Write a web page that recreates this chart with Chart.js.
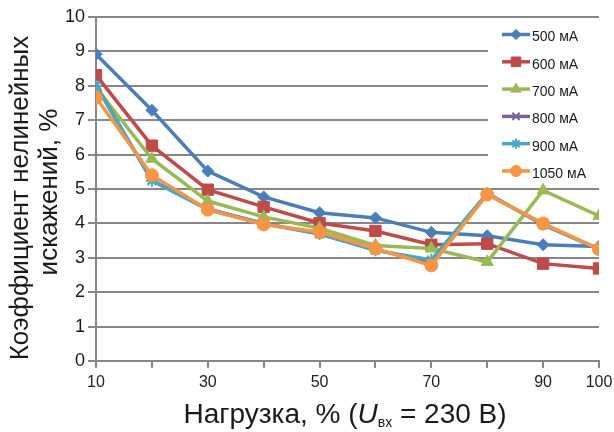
<!DOCTYPE html>
<html>
<head>
<meta charset="utf-8">
<script src="https://cdn.jsdelivr.net/npm/chart.js@4/dist/chart.umd.min.js"></script>
<style>
  html, body { margin: 0; padding: 0; background: #fff; }
  #wrap { width: 614px; height: 432px; }
</style>
</head>
<body>
<div id="wrap"><canvas id="chart-thd" width="614" height="432"></canvas></div>
<script>
// Нагрузка, %
const loads = [10, 20, 30, 40, 50, 60, 70, 80, 90, 100];
const xTickLabels = [10, 30, 50, 70, 90, 100];
const yTicks = [0, 1, 2, 3, 4, 5, 6, 7, 8, 9, 10];

const seriesNames = ['500 мА', '600 мА', '700 мА', '800 мА', '900 мА', '1050 мА'];
const s500  = [8.92, 7.29, 5.52, 4.77, 4.31, 4.16, 3.74, 3.64, 3.38, 3.33];
const s600  = [8.31, 6.26, 4.98, 4.48, 4.01, 3.78, 3.38, 3.41, 2.83, 2.69];
const s700  = [7.95, 5.88, 4.65, 4.19, 3.86, 3.36, 3.27, 2.88, 4.96, 4.22];
const s800  = [8.02, 5.25, 4.42, 4.00, 3.70, 3.23, 2.88, 4.86, 3.96, 3.25];
const s900  = [8.00, 5.24, 4.40, 3.99, 3.69, 3.22, 2.94, 4.88, 3.97, 3.25];
const s1050 = [7.66, 5.40, 4.40, 3.97, 3.75, 3.27, 2.78, 4.84, 4.00, 3.25];

const colors  = ['#4a7ebb', '#be4b48', '#98b954', '#7d60a0', '#46aac5', '#f69546'];
const markers = ['rectRot', 'rect', 'triangle', 'crossRot', 'star', 'circle'];
const radii   = [6, 8, 7, 6, 6, 6.5];
const allData = [s500, s600, s700, s800, s900, s1050];

const FONT = "'Liberation Sans', Arial, Helvetica, sans-serif";
const GRID = '#878787';

const datasets = allData.map((vals, i) => ({
  label: seriesNames[i],
  data: vals.map((v, j) => ({ x: loads[j], y: v })),
  borderColor: colors[i],
  backgroundColor: colors[i],
  pointBackgroundColor: colors[i],
  pointBorderColor: colors[i],
  pointStyle: markers[i],
  pointRadius: radii[i],
  pointBorderWidth: markers[i] === 'crossRot' || markers[i] === 'star' ? 2 : 1,
  borderWidth: 3.5,
  tension: 0,
  order: allData.length - i   // later series drawn on top, like Excel
}));

// titles + legend box drawn by hand
const decor = {
  id: 'decor',
  beforeDatasetsDraw(chart) {
    const ctx = chart.ctx;
    ctx.save();
    ctx.fillStyle = '#fff';
    ctx.fillRect(488, 19, 126, 167);
    ctx.restore();
  },
  afterDraw(chart) {
    const ctx = chart.ctx;
    const area = chart.chartArea;
    ctx.save();
    ctx.fillStyle = '#1a1a1a';

    // y title (two lines, rotated)
    ctx.textAlign = 'center';
    ctx.textBaseline = 'alphabetic';
    ctx.font = '26px ' + FONT;
    [['Коэффициент нелинейных', 28, 198], ['искажений, %', 57, 192]].forEach(([t, bx, cy]) => {
      ctx.save();
      ctx.translate(bx, cy);
      ctx.rotate(-Math.PI / 2);
      ctx.fillText(t, 0, 0);
      ctx.restore();
    });

    // x title with italic U and subscript
    const parts = [
      { t: 'Нагрузка, % (', f: '28px ' + FONT, dy: 0 },
      { t: 'U', f: 'italic 28px ' + FONT, dy: 0 },
      { t: 'вх', f: '14px ' + FONT, dy: 4 },
      { t: ' = 230 В)', f: '28px ' + FONT, dy: 0 }
    ];
    let total = 0;
    parts.forEach(p => { ctx.font = p.f; p.w = ctx.measureText(p.t).width; total += p.w; });
    let x = 345 - total / 2;
    ctx.textAlign = 'left';
    parts.forEach(p => {
      ctx.font = p.f;
      ctx.fillText(p.t, x, 423 + p.dy);
      x += p.w;
    });

    // legend
    const rowY = [34.5, 61.8, 89.1, 116.4, 143.7, 171];
    chart.data.datasets.forEach((ds, i) => {
      const y = rowY[i];
      ctx.strokeStyle = ds.borderColor;
      ctx.lineWidth = 3.5;
      ctx.beginPath();
      ctx.moveTo(502, y);
      ctx.lineTo(530, y);
      ctx.stroke();
      ctx.fillStyle = ds.borderColor;
      ctx.strokeStyle = ds.borderColor;
      ctx.lineWidth = ds.pointBorderWidth;
      Chart.helpers.drawPoint(ctx, {
        pointStyle: ds.pointStyle, rotation: 0,
        radius: ds.pointRadius * 0.85, borderWidth: ds.pointBorderWidth
      }, 516, y);
      ctx.fillStyle = '#1a1a1a';
      ctx.font = '14px ' + FONT;
      ctx.textAlign = 'left';
      ctx.textBaseline = 'middle';
      ctx.fillText(ds.label, 532, y + 3);
    });
    ctx.restore();
  }
};

new Chart(document.getElementById('chart-thd'), {
  type: 'line',
  data: { datasets },
  options: {
    responsive: false,
    animation: false,
    layout: { padding: { top: 17, right: 15, left: 0, bottom: 0 } },
    plugins: {
      legend: { display: false },
      tooltip: { enabled: false }
    },
    scales: {
      x: {
        type: 'linear',
        min: 10, max: 100,
        afterFit: s => { s.height = 71; s.paddingRight = 0; s.paddingLeft = 0; },
        afterBuildTicks: s => { s.ticks = loads.map(v => ({ value: v })); },
        ticks: {
          autoSkip: false, maxRotation: 0, padding: 5,
          color: '#222',
          font: { family: FONT, size: 16 },
          callback: v => xTickLabels.includes(v) ? String(v) : ''
        },
        grid: { drawOnChartArea: false, drawTicks: true, tickLength: 7, color: GRID, lineWidth: 2 },
        border: { color: GRID, width: 2 }
      },
      y: {
        min: 0, max: 10,
        afterFit: s => { s.width = 96; s.paddingTop = 0; s.paddingBottom = 0; },
        afterBuildTicks: s => { s.ticks = yTicks.map(v => ({ value: v })); },
        ticks: {
          padding: 3,
          color: '#1a1a1a',
          font: { family: FONT, size: 18 }
        },
        grid: { color: GRID, lineWidth: 2, tickLength: 8 },
        border: { color: GRID, width: 2 }
      }
    }
  },
  plugins: [decor]
});
</script>
</body>
</html>
